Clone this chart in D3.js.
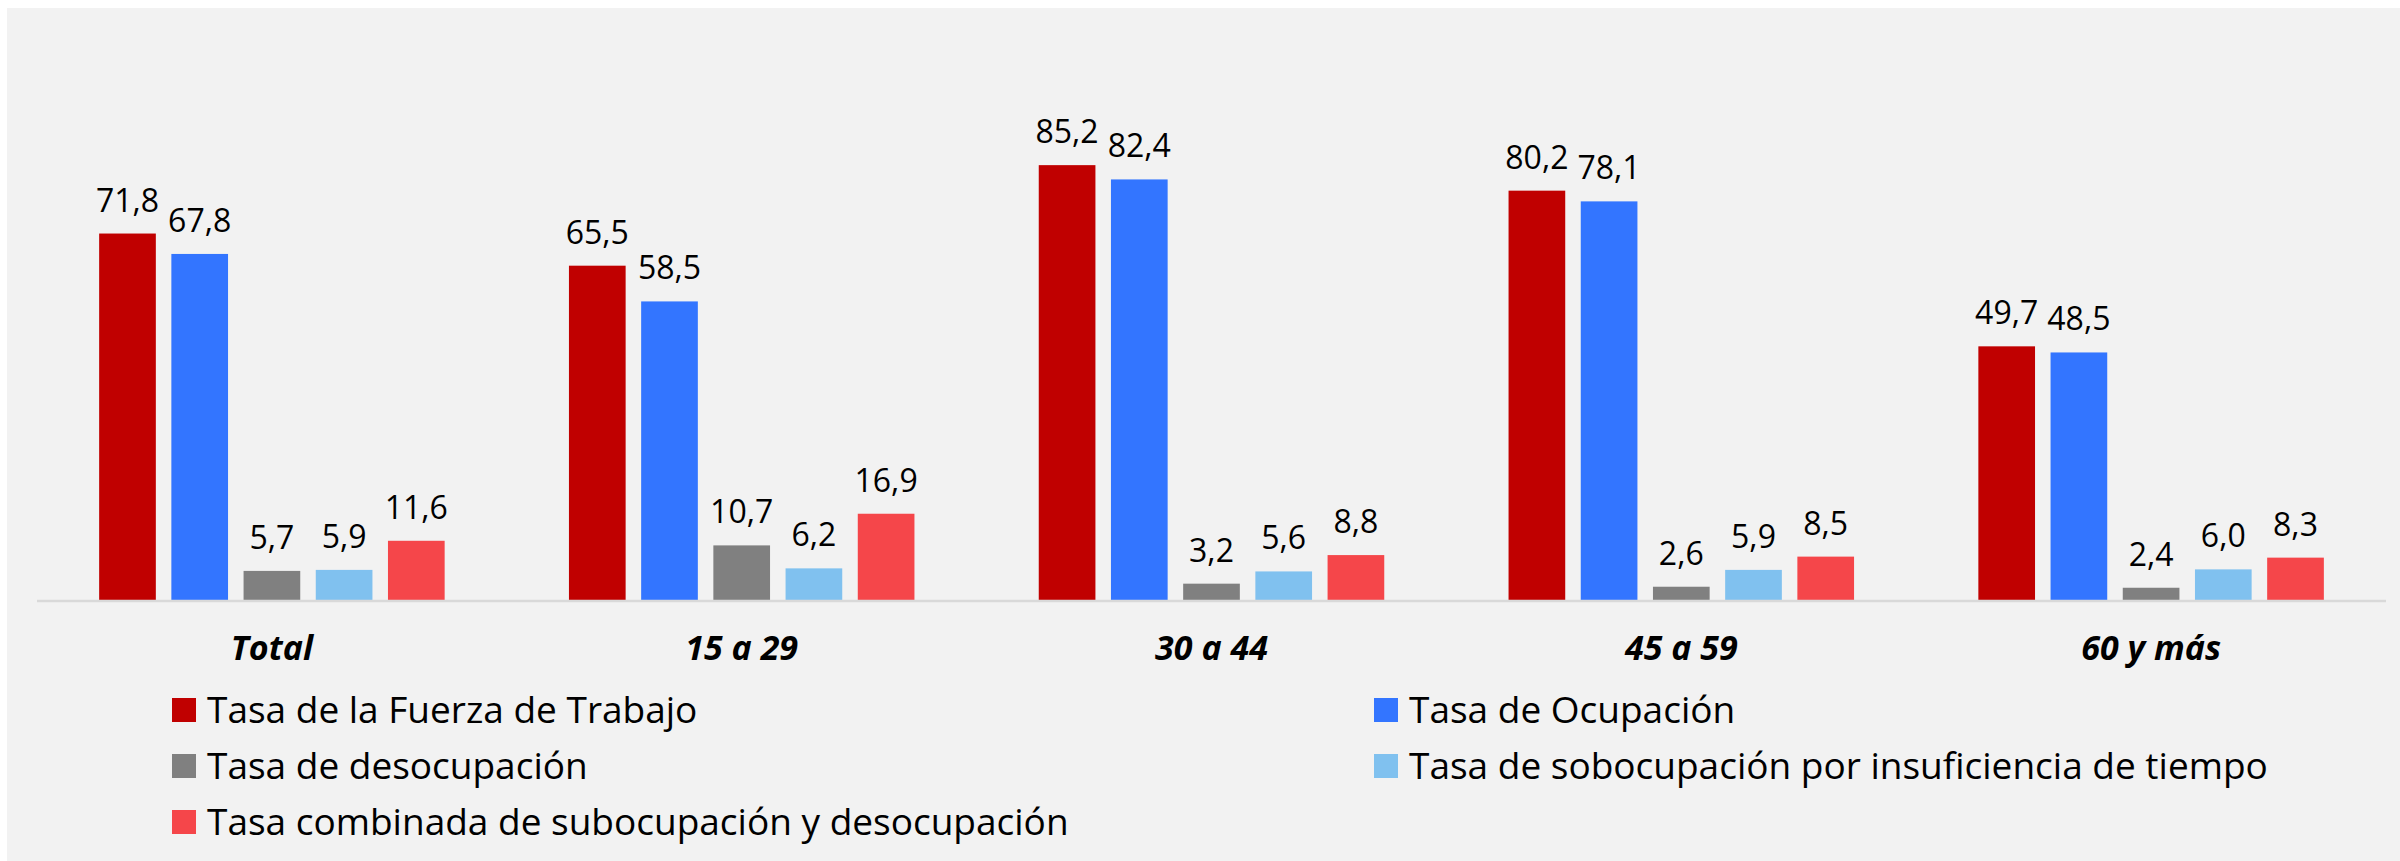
<!DOCTYPE html>
<html>
<head>
<meta charset="utf-8">
<script src="https://cdn.jsdelivr.net/npm/d3@7"></script>
<style>
  html, body { margin: 0; padding: 0; background: #ffffff; }
  svg { display: block; }
  text { font-family: "Open Sans", sans-serif; fill: #000; }
</style>
</head>
<body>
<svg id="chart" width="2400" height="861"></svg>
<script>
// ---- data ----
const categories = ["Total", "15 a 29", "30 a 44", "45 a 59", "60 y más"];
const seriesNames = [
  "Tasa de la Fuerza de Trabajo",
  "Tasa de Ocupación",
  "Tasa de desocupación",
  "Tasa de sobocupación por insuficiencia de tiempo",
  "Tasa combinada de subocupación y desocupación"
];
const fuerzaTrabajo = [71.8, 65.5, 85.2, 80.2, 49.7];
const ocupacion = [67.8, 58.5, 82.4, 78.1, 48.5];
const desocupacion = [5.7, 10.7, 3.2, 2.6, 2.4];
const sobocupacion = [5.9, 6.2, 5.6, 5.9, 6.0];
const combinada = [11.6, 16.9, 8.8, 8.5, 8.3];
const seriesValues = [fuerzaTrabajo, ocupacion, desocupacion, sobocupacion, combinada];
const colors = ["#c00000", "#3375ff", "#808080", "#80c1ef", "#f5464a"];

// ---- layout ----
const svg = d3.select("#chart");
svg.append("rect").attr("x", 7).attr("y", 8).attr("width", 2400 - 7).attr("height", 861 - 8).attr("fill", "#f2f2f2");

const plotLeft = 37, plotRight = 2386, baseY = 600;
const x0 = d3.scaleBand().domain(categories).range([plotLeft, plotRight]).padding(0);
const groupW = 345.5;
const x1 = d3.scaleBand().domain(d3.range(seriesNames.length))
  .range([(x0.bandwidth() - groupW) / 2, (x0.bandwidth() + groupW) / 2])
  .paddingInner(0.215).paddingOuter(0);
const y = d3.scaleLinear().domain([0, 100]).range([baseY, baseY - 510.4]);

const fmt = v => d3.format(".1f")(v).replace(".", ",");

const groups = svg.append("g").selectAll("g").data(categories).join("g")
  .attr("transform", d => `translate(${x0(d)},0)`);

groups.each(function(cat, ci) {
  const g = d3.select(this);
  seriesValues.forEach((vals, si) => {
    const v = vals[ci];
    g.append("rect")
      .attr("x", x1(si)).attr("width", x1.bandwidth())
      .attr("y", y(v)).attr("height", y(0) - y(v))
      .attr("fill", colors[si]);
    g.append("text")
      .attr("x", x1(si) + x1.bandwidth() / 2)
      .attr("y", y(v) - 22)
      .attr("text-anchor", "middle")
      .attr("font-size", 32)
      .text(fmt(v));
  });
});

// baseline
svg.append("line").attr("x1", plotLeft).attr("x2", plotRight).attr("y1", baseY + 1).attr("y2", baseY + 1)
  .attr("stroke", "#d9d9d9").attr("stroke-width", 2.5);

// category axis
const xAxis = d3.axisBottom(x0).tickSize(0).tickPadding(0);
const axG = svg.append("g").attr("transform", `translate(0,${baseY})`).call(xAxis);
axG.select(".domain").remove();
axG.selectAll("text")
  .attr("dy", null).attr("y", 60)
  .attr("font-size", 34).attr("font-weight", "bold").attr("font-style", "italic")
  .style("font-family", "'Open Sans', sans-serif").attr("fill", "#000");

// legend
const legendPos = [
  {x: 172, y: 698}, {x: 1374, y: 698},
  {x: 172, y: 754}, {x: 1374, y: 754},
  {x: 172, y: 810}
];
const leg = svg.append("g").selectAll("g").data(seriesNames).join("g")
  .attr("transform", (d, i) => `translate(${legendPos[i].x},${legendPos[i].y})`);
leg.append("rect").attr("width", 24).attr("height", 24).attr("fill", (d, i) => colors[i]);
leg.append("text").attr("x", 35).attr("y", 25).attr("font-size", 37).text(d => d);
</script>
</body>
</html>
